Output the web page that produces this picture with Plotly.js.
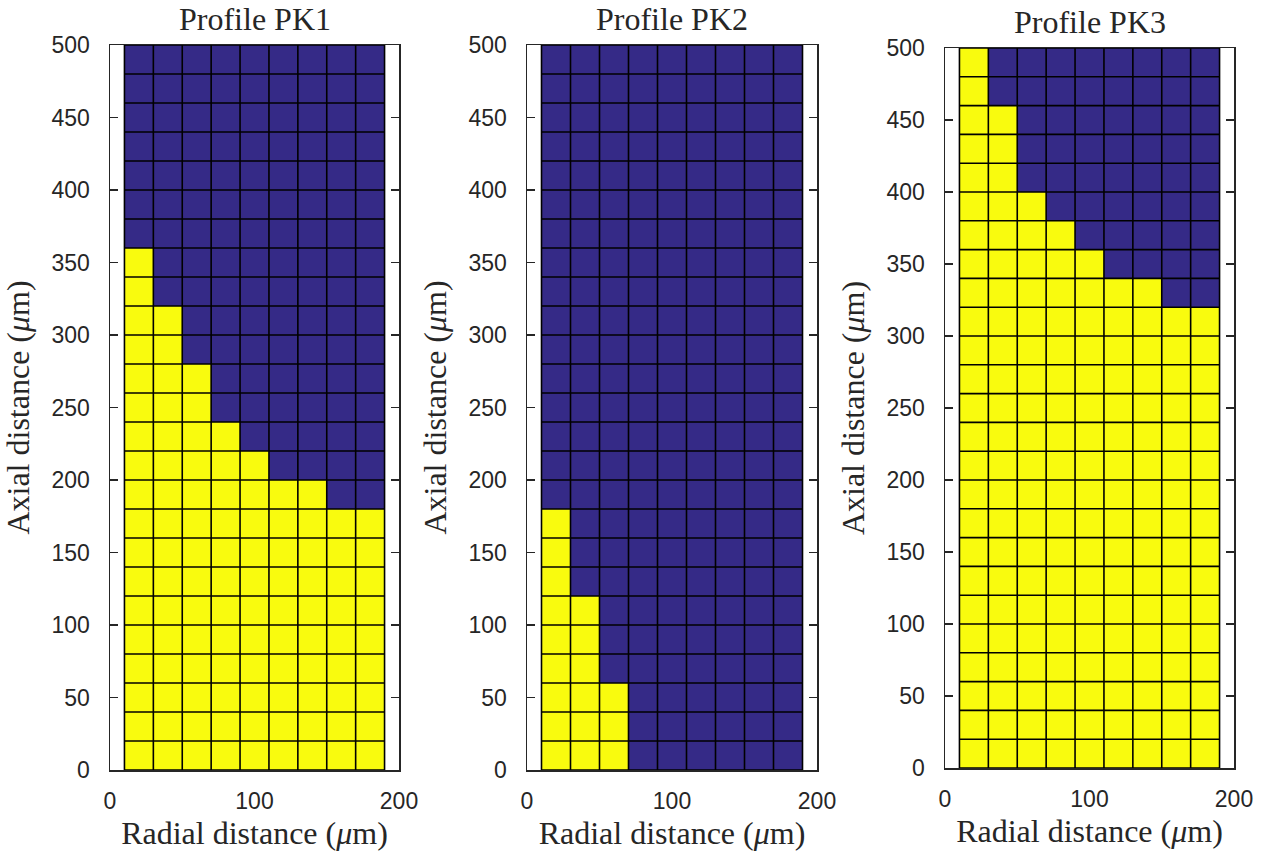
<!DOCTYPE html>
<html>
<head>
<meta charset="utf-8">
<script src="https://cdn.plot.ly/plotly-3.0.1.min.js"></script>
<style>html,body{margin:0;padding:0;background:#fff;}#chart{width:1272px;height:854px;}</style>
</head>
<body>
<div id="chart"></div>
<script>
// Cell centres (µm)
const radialCenters = [20, 40, 60, 80, 100, 120, 140, 160, 180];
const axialCenters = [10, 30, 50, 70, 90, 110, 130, 150, 170, 190, 210, 230, 250,
                      270, 290, 310, 330, 350, 370, 390, 410, 430, 450, 470, 490];
// Height (µm) of the yellow region in each radial column, per profile
const pk1Heights = [360, 320, 280, 240, 220, 200, 200, 180, 180];
const pk2Heights = [180, 120, 60, 0, 0, 0, 0, 0, 0];
const pk3Heights = [500, 460, 400, 380, 360, 340, 340, 320, 320];
const profileTitles = ["Profile PK1", "Profile PK2", "Profile PK3"];
const xTicks = [0, 100, 200];
const yTicks = [0, 50, 100, 150, 200, 250, 300, 350, 400, 450, 500];

const DARK = "#352A87", YELLOW = "#F9FB0E", AX = "#262626";
const W = 1272, H = 854;
const boxes = [
  {l: 110, r: 399, t: 45, b: 770},
  {l: 527, r: 817, t: 45, b: 770},
  {l: 945, r: 1234, t: 48, b: 768}
];

function zFrom(heights) {
  return axialCenters.map(y => radialCenters.map((x, j) => (y < heights[j] ? 1 : 0)));
}
const dx = radialCenters[1] - radialCenters[0];
const dy = axialCenters[1] - axialCenters[0];
const xEdges = radialCenters.map(c => c - dx / 2).concat([radialCenters[radialCenters.length - 1] + dx / 2]);
const yEdges = axialCenters.map(c => c - dy / 2).concat([axialCenters[axialCenters.length - 1] + dy / 2]);
function gridLines() {
  const gx = [], gy = [];
  const x0 = xEdges[0], x1 = xEdges[xEdges.length - 1];
  const y0 = yEdges[0], y1 = yEdges[yEdges.length - 1];
  xEdges.forEach(x => { gx.push(x, x, null); gy.push(y0, y1, null); });
  yEdges.forEach(y => { gx.push(x0, x1, null); gy.push(y, y, null); });
  return {gx, gy};
}
const g = gridLines();
const allHeights = [pk1Heights, pk2Heights, pk3Heights];

const data = [];
const layout = {
  width: W, height: H,
  margin: {l: 0, r: 0, t: 0, b: 0},
  paper_bgcolor: "#fff", plot_bgcolor: "#fff",
  showlegend: false,
  annotations: []
};
const sansFont = {family: "Liberation Sans, Arial, sans-serif", size: 23, color: AX};
const serifFont = {family: "Liberation Serif, Times New Roman, serif", size: 32, color: "#262626"};

allHeights.forEach((h, i) => {
  const n = i === 0 ? "" : String(i + 1);
  data.push({
    type: "heatmap", x: radialCenters, y: axialCenters, z: zFrom(h),
    zmin: 0, zmax: 1, colorscale: [[0, DARK], [1, YELLOW]], showscale: false,
    xaxis: "x" + n, yaxis: "y" + n, hoverinfo: "skip"
  });
  data.push({
    type: "scatter", mode: "lines", x: g.gx, y: g.gy,
    line: {color: "#000", width: 1.6}, xaxis: "x" + n, yaxis: "y" + n,
    hoverinfo: "skip", connectgaps: false
  });
  const b = boxes[i];
  layout["xaxis" + n] = {
    domain: [b.l / W, b.r / W], anchor: "y" + n, range: [0, 200],
    tickvals: xTicks, ticks: "", showgrid: false, zeroline: false,
    showline: true, mirror: true, linecolor: AX, linewidth: 1.5,
    tickfont: sansFont, ticklabelstandoff: 10,
    title: {text: "Radial distance (<i>μ</i>m)", font: serifFont, standoff: 8}
  };
  layout["yaxis" + n] = {
    domain: [1 - b.b / H, 1 - b.t / H], anchor: "x" + n, range: [0, 500],
    tickvals: yTicks, ticks: "inside", ticklen: 8, tickwidth: 1.5, tickcolor: AX,
    showgrid: false, zeroline: false,
    showline: true, mirror: "ticks", linecolor: AX, linewidth: 1.5,
    tickfont: sansFont, ticklabelstandoff: 14,
    title: {text: "Axial distance (<i>μ</i>m)", font: serifFont, standoff: 12}
  };
  layout.annotations.push({
    text: profileTitles[i], xref: "paper", yref: "paper",
    x: (b.l + b.r) / 2 / W, y: 1 - (b.t - 6) / H, xanchor: "center", yanchor: "bottom",
    showarrow: false, font: serifFont
  });
});

Plotly.newPlot("chart", data, layout, {displayModeBar: false, staticPlot: true});
</script>
</body>
</html>
